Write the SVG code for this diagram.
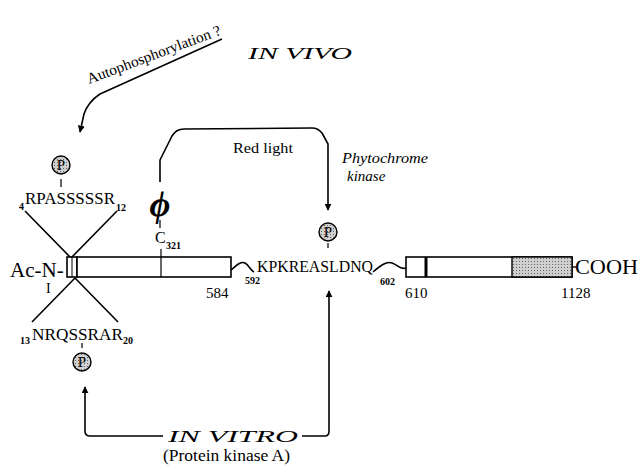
<svg xmlns="http://www.w3.org/2000/svg" width="642" height="467" viewBox="0 0 642 467">
<defs>
<marker id="ah" viewBox="0 0 10 10" refX="9" refY="5" markerWidth="7" markerHeight="7" markerUnits="userSpaceOnUse" orient="auto">
<path d="M0,0 L10,5 L0,10 z" fill="#000"/>
</marker>
<pattern id="stip" width="3" height="3" patternUnits="userSpaceOnUse">
<rect width="3" height="3" fill="#cfcfcf"/>
<rect width="1" height="1" fill="#666"/>
</pattern>
</defs>
<style>
text{font-family:"Liberation Serif","Times New Roman",serif;fill:#000}
.seq{font-size:16px}
.num{font-size:15px}
.sub{font-size:10px;font-weight:bold}
.lab{font-size:15px}
.it{font-style:italic}
.big{font-size:22px}
.ln{fill:none;stroke:#000;stroke-width:1.6;stroke-linejoin:round}
.pc{fill:url(#stip);stroke:#000;stroke-width:1.4}
.pt{font-size:15px;text-anchor:middle}
.bar{fill:#fff;stroke:#000;stroke-width:1.6}
</style>
<rect width="642" height="467" fill="#fff"/>

<g id="labels">
<text class="it" x="248" y="59" font-size="17" textLength="104" lengthAdjust="spacingAndGlyphs">IN  VIVO</text>
<text transform="translate(89,84) rotate(-20.5)" font-size="15" textLength="142" lengthAdjust="spacingAndGlyphs">Autophosphorylation ?</text>
<text class="lab" x="233" y="153" textLength="60" lengthAdjust="spacingAndGlyphs">Red light</text>
<text class="lab it" x="342" y="163" textLength="86" lengthAdjust="spacingAndGlyphs">Phytochrome</text>
<text class="lab it" x="347" y="181">kinase</text>
<text class="it" x="168" y="442" font-size="17" textLength="130" lengthAdjust="spacingAndGlyphs">IN  VITRO</text>
<text x="163" y="461" font-size="16" textLength="127" lengthAdjust="spacingAndGlyphs">(Protein kinase A)</text>
</g>

<g id="connectors">
<path class="ln" d="M222,39 L100,94 Q88,102 84,114 L80,132" marker-end="url(#ah)"/>
<path class="ln" d="M160,182 L160,160 L172,136 Q176,129 184,129 L312,128 Q318,128 322,133 L328,144 L328,210" marker-end="url(#ah)"/>
<path class="ln" d="M163,436 L90,436 Q85,436 85,431 L85,387" marker-end="url(#ah)"/>
<path class="ln" d="M302,436 L325,436 Q329,436 329,431 L329,291" marker-end="url(#ah)"/>
<path class="ln" stroke-width="1.4" d="M25,211 L71,258 M117,211 L71,258 M75,278 L32,322 M75,278 L118,322"/>
</g>

<g id="protein">
<text x="10" y="277" font-size="21">Ac-N-</text>
<text x="46" y="293" font-size="14">I</text>
<rect class="bar" x="67" y="257" width="10" height="20"/>
<line x1="72" y1="257" x2="72" y2="277" stroke="#000" stroke-width="1"/>
<rect class="bar" x="77" y="257" width="154" height="20"/>
<line x1="161" y1="257" x2="161" y2="277" stroke="#000" stroke-width="1.2"/>
<line x1="161" y1="249" x2="161" y2="257" stroke="#000" stroke-width="1.2"/>
<text class="num" x="206" y="298">584</text>
<path class="ln" stroke-width="1.4" d="M231,270 C236,266 240,261 245,263 C249,265 250,270 254,272"/>
<text class="sub" x="245" y="284">592</text>
<text class="seq" x="257" y="272" textLength="116" lengthAdjust="spacingAndGlyphs">KPKREASLDNQ</text>
<path class="ln" stroke-width="1.4" d="M373,272 C380,266 386,261 392,263 C398,265 400,270 406,268"/>
<text class="sub" x="380" y="285">602</text>
<rect class="bar" x="406" y="257" width="166" height="20"/>
<rect x="512" y="257" width="60" height="20" fill="url(#stip)" stroke="#000" stroke-width="1.4"/>
<line x1="426" y1="257" x2="426" y2="277" stroke="#000" stroke-width="3"/>
<line x1="572" y1="267" x2="576" y2="267" stroke="#000" stroke-width="1.4"/>
<text class="big" x="575" y="274" textLength="63" lengthAdjust="spacingAndGlyphs">COOH</text>
<text class="num" x="405" y="298">610</text>
<text class="num" x="561" y="298">1128</text>
</g>

<g id="chromophore">
<text x="160" y="216" font-size="36" font-weight="bold" font-style="italic" text-anchor="middle">ϕ</text>
<line x1="160" y1="220" x2="160" y2="228" stroke="#000" stroke-width="1.2"/>
<text x="155" y="243" font-size="16">C</text>
<text class="sub" x="166" y="249">321</text>
</g>

<g id="site-top">
<circle class="pc" cx="61" cy="165" r="9"/>
<text class="pt" x="61" y="170">P</text>
<line x1="61" y1="179" x2="61" y2="187" stroke="#000" stroke-width="1.2"/>
<text class="seq" x="25" y="204" textLength="90" lengthAdjust="spacingAndGlyphs">RPASSSSSR</text>
<text class="sub" x="19" y="210">4</text>
<text class="sub" x="116" y="211">12</text>
</g>

<g id="site-bottom">
<text class="sub" x="20" y="344">13</text>
<text class="seq" x="32" y="340" textLength="91" lengthAdjust="spacingAndGlyphs">NRQSSRAR</text>
<text class="sub" x="123" y="344">20</text>
<line x1="82" y1="343" x2="82" y2="348" stroke="#000" stroke-width="1.2"/>
<circle class="pc" cx="82" cy="362" r="9"/>
<text class="pt" x="82" y="367">P</text>
</g>

<g id="site-middle">
<circle class="pc" cx="328" cy="232" r="9"/>
<text class="pt" x="328" y="237">P</text>
<line x1="328" y1="243" x2="328" y2="248" stroke="#000" stroke-width="1.2"/>
</g>
</svg>
